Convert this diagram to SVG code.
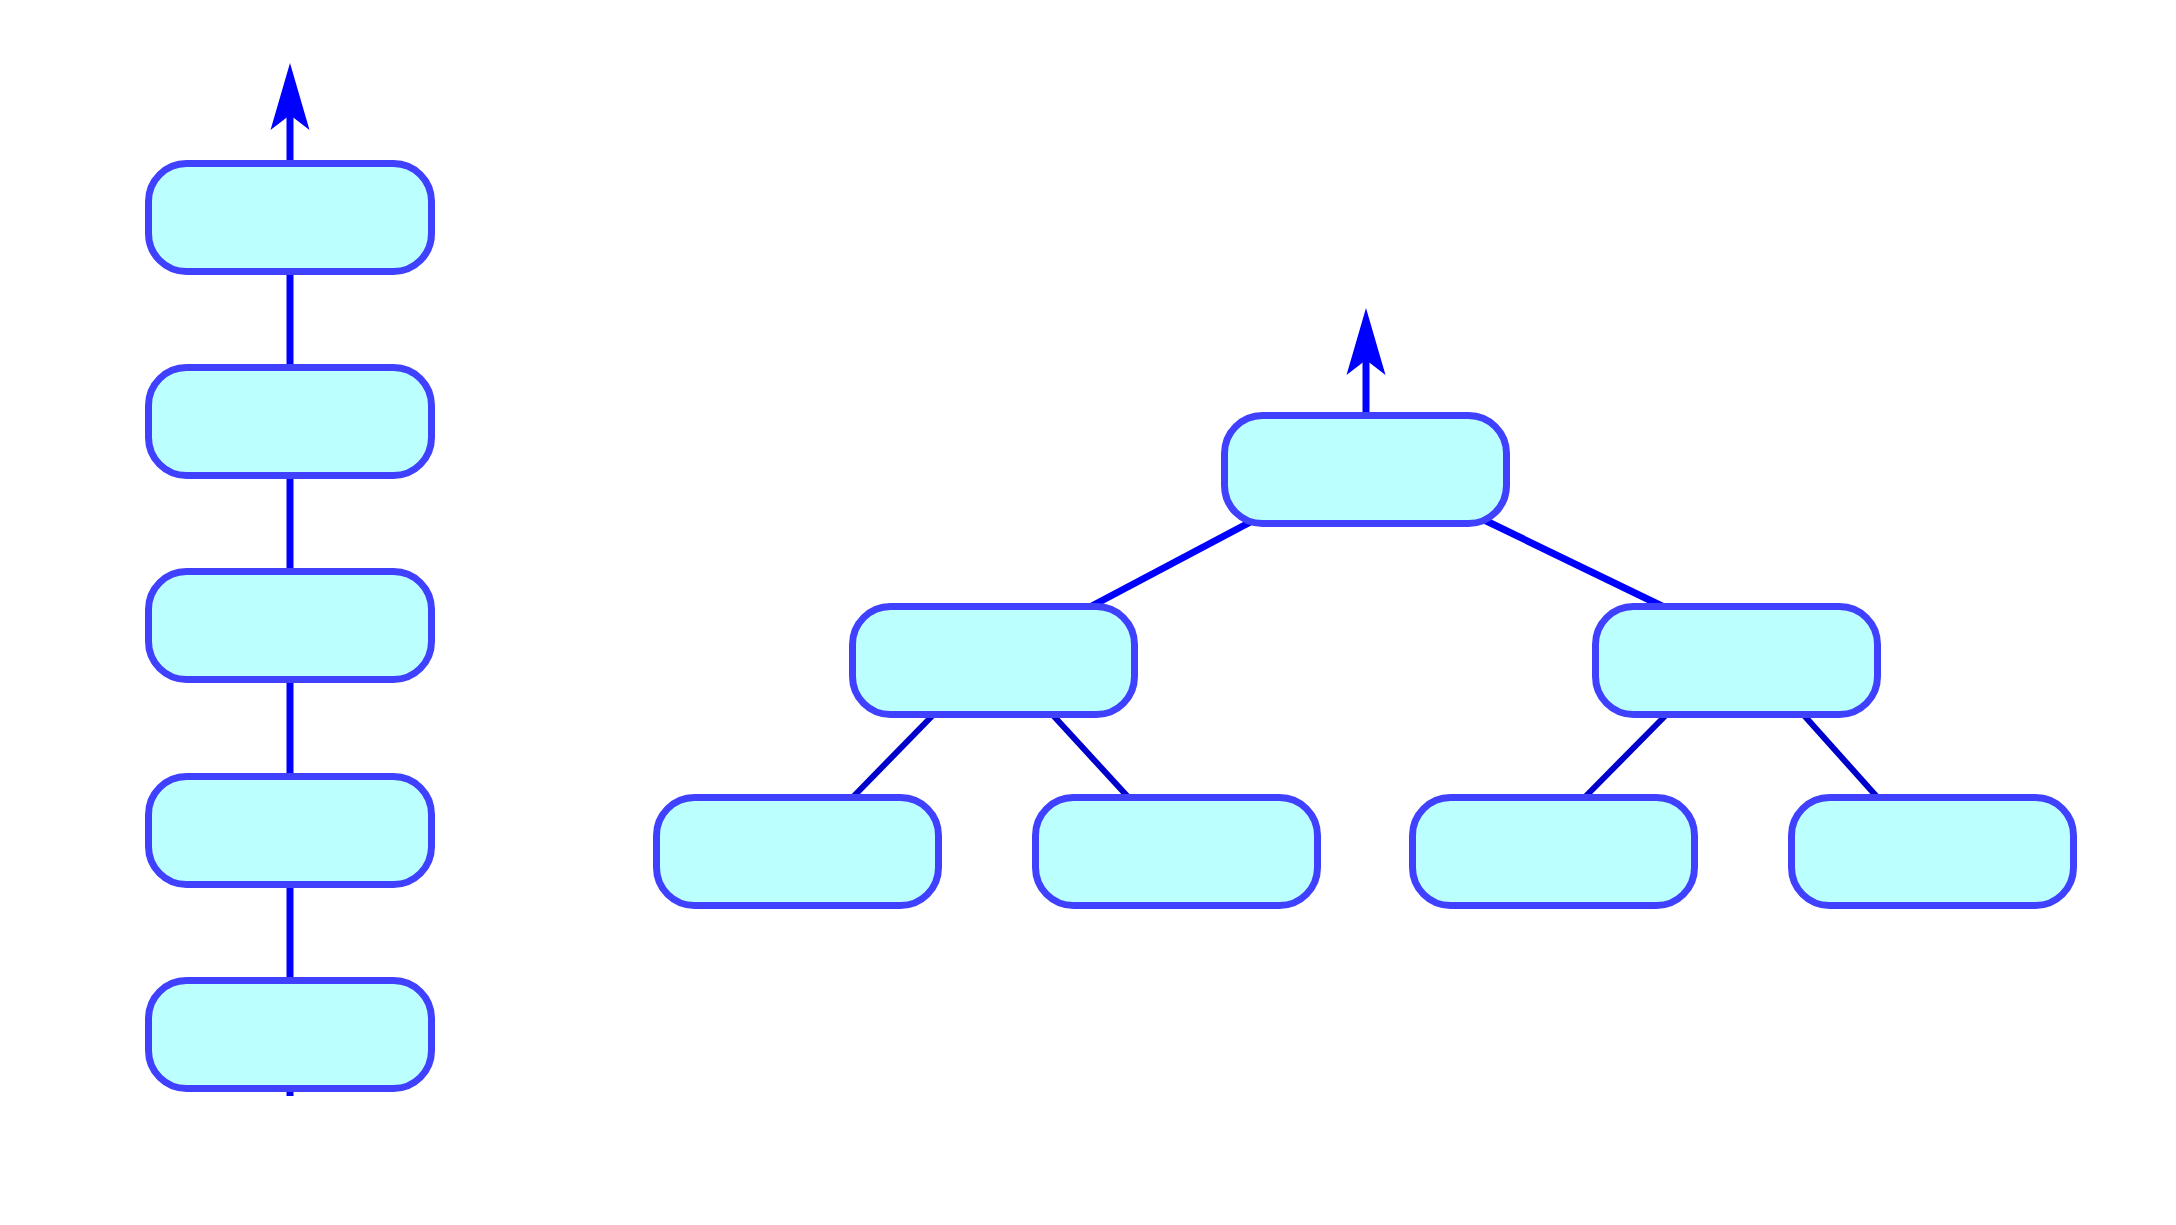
<svg xmlns="http://www.w3.org/2000/svg" width="2176" height="1225" viewBox="0 0 2176 1225">
<style>
.node rect{fill:#bbffff;stroke:#4040ff;stroke-width:7}
.c1{stroke:#0000ff;stroke-width:7;fill:none}
.c2{stroke:#0000cc;stroke-width:6;fill:none}
</style>
<defs>
<marker id="arr" markerUnits="userSpaceOnUse" viewBox="-16 -20 70 40" refX="0" refY="0" markerWidth="70" markerHeight="40" orient="auto">
<path d="M52 0 L-15 -19.5 L0 0 L-15 19.5 Z" fill="#0000ff"/>
</marker>
</defs>
<rect width="2176" height="1225" fill="#ffffff"/>
<g id="connectors">
<line class="c1" x1="290" y1="1096" x2="290" y2="115" marker-end="url(#arr)"/>
<line class="c1" x1="1366" y1="420" x2="1366" y2="360" marker-end="url(#arr)"/>
<line class="c1" x1="1258" y1="518" x2="1088" y2="608"/>
<line class="c1" x1="1478" y1="517" x2="1666" y2="608"/>
<line class="c2" x1="936" y1="712" x2="852" y2="798"/>
<line class="c2" x1="1050" y1="712" x2="1129" y2="798"/>
<line class="c2" x1="1669" y1="712" x2="1584" y2="798"/>
<line class="c2" x1="1801" y1="712" x2="1878" y2="798"/>
</g>
<g id="n1" class="node"><rect x="148.5" y="163.5" width="283" height="108" rx="38"/></g>
<g id="n2" class="node"><rect x="148.5" y="367.5" width="283" height="108" rx="38"/></g>
<g id="n3" class="node"><rect x="148.5" y="571.5" width="283" height="108" rx="38"/></g>
<g id="n4" class="node"><rect x="148.5" y="776.5" width="283" height="108" rx="38"/></g>
<g id="n5" class="node"><rect x="148.5" y="980.5" width="283" height="108" rx="38"/></g>
<g id="root" class="node"><rect x="1224.5" y="415.5" width="282" height="108" rx="38"/></g>
<g id="l" class="node"><rect x="852.5" y="606.5" width="282" height="108" rx="38"/></g>
<g id="r" class="node"><rect x="1595.5" y="606.5" width="282" height="108" rx="38"/></g>
<g id="ll" class="node"><rect x="656.5" y="797.5" width="282" height="108" rx="38"/></g>
<g id="lr" class="node"><rect x="1035.5" y="797.5" width="282" height="108" rx="38"/></g>
<g id="rl" class="node"><rect x="1412.5" y="797.5" width="282" height="108" rx="38"/></g>
<g id="rr" class="node"><rect x="1791.5" y="797.5" width="282" height="108" rx="38"/></g>
</svg>
